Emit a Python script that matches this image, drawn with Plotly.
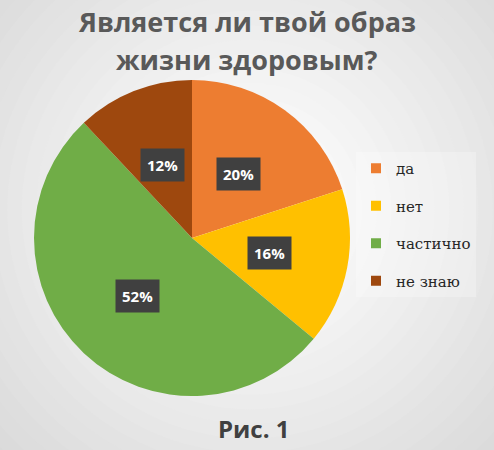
import math
import plotly.graph_objects as go

# chart data
categories = ["да", "нет", "частично", "не знаю"]
shares = [20, 16, 52, 12]
slice_colors = ["#ED7D31", "#FFC000", "#70AD47", "#9E480E"]

title_lines = ["Является ли твой образ", "жизни здоровым?"]
caption_text = "Рис. 1"

W, H = 494, 450

# pie placement (pixels)
cx, cy, r = 192, 238, 158
dom_x = [(cx - r) / W, (cx + r) / W]
dom_y = [1 - (cy + r) / H, 1 - (cy - r) / H]

fig = go.Figure()
fig.add_trace(go.Pie(
    labels=categories,
    values=shares,
    marker=dict(colors=slice_colors, line=dict(width=0)),
    sort=False,
    direction="clockwise",
    rotation=0,
    textinfo="none",
    hoverinfo="label+percent",
    domain=dict(x=dom_x, y=dom_y),
    showlegend=False,
))

# legend entries as empty scatter traces so the rows can be spaced out
for i, (cat, col) in enumerate(zip(categories, slice_colors)):
    fig.add_trace(go.Scatter(
        x=[None], y=[None], mode="markers", name=cat,
        legendgroup="g%d" % i,
        marker=dict(symbol="square", size=10, color=col),
    ))

# percentage labels in dark boxes, placed at slice mid-angles
total = sum(shares)
start = 0.0
annotations = []
for cat, val in zip(categories, shares):
    mid = (start + val / 2) / total * 2 * math.pi
    start += val
    px = cx + 0.5 * r * math.sin(mid)
    py = cy - 0.5 * r * math.cos(mid)
    annotations.append(dict(
        x=px / W, y=1 - py / H, xref="paper", yref="paper",
        xanchor="center", yanchor="middle",
        text="<b>%d%%</b>" % round(val / total * 100),
        showarrow=False, bgcolor="#404040", borderpad=6,
        font=dict(family="Open Sans", size=15, color="white"),
    ))

for line, ty in zip(title_lines, [22, 60]):
    annotations.append(dict(
        x=247 / W, y=1 - ty / H, xref="paper", yref="paper",
        xanchor="center", yanchor="middle",
        text="<b>%s</b>" % line, showarrow=False,
        font=dict(family="Open Sans", size=27, color="#595959"),
    ))

annotations.append(dict(
    x=254 / W, y=1 - 428 / H, xref="paper", yref="paper",
    xanchor="center", yanchor="middle",
    text="<b>%s</b>" % caption_text, showarrow=False,
    font=dict(family="Open Sans", size=24, color="#404040"),
))

# soft radial background
shapes = []
steps = 30
for i in range(steps):
    t = i / (steps - 1)
    g = int(206 + (255 - 206) * t)
    rx = (1 - t) * 420 + 40
    ry = (1 - t) * 420 + 40
    shapes.append(dict(
        type="circle", xref="paper", yref="paper", layer="below",
        x0=(250 - rx) / W, x1=(250 + rx) / W,
        y0=1 - (210 + ry) / H, y1=1 - (210 - ry) / H,
        fillcolor="rgb(%d,%d,%d)" % (g, g, g), line=dict(width=0),
    ))

fig.update_layout(
    width=W, height=H,
    margin=dict(t=0, l=0, r=0, b=0),
    paper_bgcolor="#cfcfcf",
    plot_bgcolor="rgba(0,0,0,0)",
    xaxis=dict(visible=False),
    yaxis=dict(visible=False),
    legend=dict(
        x=356 / W, y=1 - 152 / H, xanchor="left", yanchor="top",
        bgcolor="rgba(255,255,255,0.25)",
        font=dict(family="DejaVu Serif", size=15, color="#262626"),
        tracegroupgap=15, itemwidth=30,
    ),
    annotations=annotations,
    shapes=shapes,
)

fig.write_html(
    "out.html",
    config={"displayModeBar": False},
    post_script="document.body.style.margin='0px';",
)
